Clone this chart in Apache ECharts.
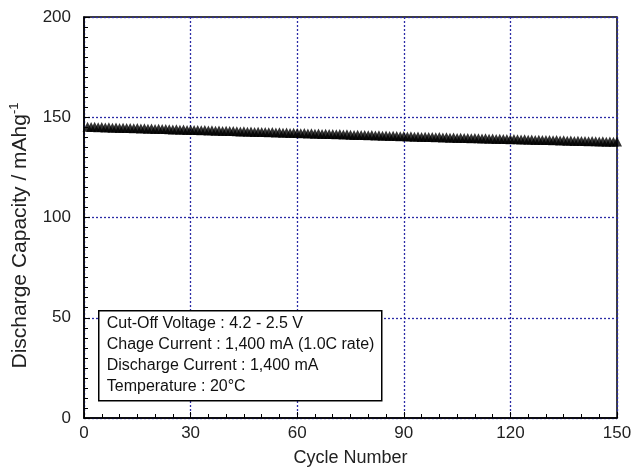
<!DOCTYPE html>
<html>
<head>
<meta charset="utf-8">
<script src="https://cdn.jsdelivr.net/npm/echarts@6/dist/echarts.min.js"></script>
<style>
  html, body { margin: 0; padding: 0; background: #fff; }
  #chart { width: 632px; height: 470px; }
</style>
</head>
<body>
<div id="chart"></div>
<script>
// discharge capacity (mAh/g) per cycle, cycle 1..150
const capacity = [
  145.3, 145.1, 145.2, 145.0, 145.1, 144.9, 145.0, 144.8, 144.9, 144.7,
  144.8, 144.6, 144.7, 144.5, 144.6, 144.4, 144.5, 144.3, 144.4, 144.2,
  144.3, 144.1, 144.2, 144.0, 143.9, 144.0, 143.8, 143.9, 143.7, 143.8,
  143.6, 143.7, 143.5, 143.6, 143.4, 143.5, 143.3, 143.4, 143.2, 143.3,
  143.1, 143.2, 143.0, 142.9, 143.0, 142.8, 142.9, 142.7, 142.8, 142.6,
  142.7, 142.5, 142.6, 142.4, 142.5, 142.3, 142.4, 142.2, 142.3, 142.1,
  142.0, 142.1, 141.9, 142.0, 141.8, 141.9, 141.7, 141.8, 141.6, 141.7,
  141.5, 141.6, 141.4, 141.5, 141.3, 141.2, 141.3, 141.1, 141.2, 141.0,
  141.1, 140.9, 141.0, 140.8, 140.9, 140.7, 140.8, 140.6, 140.5, 140.6,
  140.4, 140.5, 140.3, 140.4, 140.2, 140.3, 140.1, 140.2, 140.0, 140.1,
  139.9, 140.0, 139.8, 139.9, 139.7, 139.8, 139.6, 139.7, 139.5, 139.6,
  139.5, 139.4, 139.5, 139.3, 139.4, 139.2, 139.3, 139.1, 139.2, 139.0,
  139.1, 139.0, 138.9, 139.0, 138.8, 138.9, 138.7, 138.8, 138.6, 138.7,
  138.6, 138.5, 138.6, 138.4, 138.5, 138.3, 138.4, 138.2, 138.3, 138.1,
  138.2, 138.0, 138.1, 138.0, 137.9, 138.0, 137.8, 137.9, 137.8, 137.9
];

const conditions = [
  'Cut-Off Voltage : 4.2 - 2.5 V',
  'Chage Current : 1,400 mA (1.0C rate)',
  'Discharge Current : 1,400 mA',
  'Temperature : 20°C'
];

const FONT = '"Liberation Sans", Arial, Helvetica, sans-serif';
const GRID_COLOR = '#2b2ba6';

function initChart() {
  const chart = echarts.init(document.getElementById('chart'), null, { renderer: 'canvas' });

  const points = capacity.map((v, i) => [i + 1, v]);

  const option = {
    animation: false,
    backgroundColor: '#fff',
    grid: {
      left: 84, right: 15, top: 17, bottom: 52,
      containLabel: false,
      outerBoundsMode: 'none',
      show: true,
      borderColor: '#000',
      borderWidth: 1.5
    },
    xAxis: {
      type: 'value',
      min: 0, max: 150, interval: 30,
      name: 'Cycle Number',
      nameLocation: 'middle',
      nameGap: 31,
      nameTextStyle: { fontFamily: FONT, fontSize: 18, color: '#222' },
      axisLine: { lineStyle: { color: '#000', width: 1.5 } },
      axisTick: { inside: true, length: 6, lineStyle: { color: '#000' } },
      minorTick: { show: true, splitNumber: 6, length: 4, lineStyle: { color: '#000' } },
      axisLabel: { fontFamily: FONT, fontSize: 17, color: '#222', margin: 7 },
      splitLine: { lineStyle: { color: GRID_COLOR, type: [2, 2], width: 1.3 } }
    },
    yAxis: {
      type: 'value',
      min: 0, max: 200, interval: 50,
      name: 'Discharge Capacity / mAhg{sup|-1}',
      nameLocation: 'middle',
      nameGap: 50,
      nameTextStyle: {
        fontFamily: FONT, fontSize: 21, color: '#222', lineHeight: 24,
        padding: [0, 36, 0, 0],
        rich: {
          sup: { fontFamily: FONT, fontSize: 13, color: '#222', verticalAlign: 'top', lineHeight: 24, padding: [0, 0, 10, 0] }
        }
      },
      axisLine: { lineStyle: { color: '#000', width: 1.5 } },
      axisTick: { inside: true, length: 6, lineStyle: { color: '#000' } },
      minorTick: { show: true, splitNumber: 10, length: 4, lineStyle: { color: '#000' } },
      axisLabel: { fontFamily: FONT, fontSize: 17, color: '#222', margin: 13 },
      splitLine: { lineStyle: { color: GRID_COLOR, type: [2, 2], width: 1.3 } }
    },
    graphic: [{
      type: 'group',
      left: 98,
      top: 310,
      z: 100,
      children: [{
        type: 'rect',
        z: 100,
        shape: { x: 0, y: 0, width: 283, height: 90 },
        style: { fill: '#fff', stroke: '#000', lineWidth: 1.5 }
      }].concat(conditions.map((t, i) => ({
        type: 'text',
        z: 101,
        x: 8,
        y: 13 + i * 21,
        style: {
          text: t,
          fontFamily: FONT,
          fontSize: 16,
          fill: '#111',
          verticalAlign: 'middle'
        }
      })))
    }],
    series: [{
      type: 'scatter',
      data: points,
      symbol: 'triangle',
      symbolSize: 10,
      itemStyle: { color: '#000' }
    }]
  };

  chart.setOption(option);
  window.addEventListener('resize', chart.resize);
}

document.addEventListener('DOMContentLoaded', initChart);
</script>
</body>
</html>
